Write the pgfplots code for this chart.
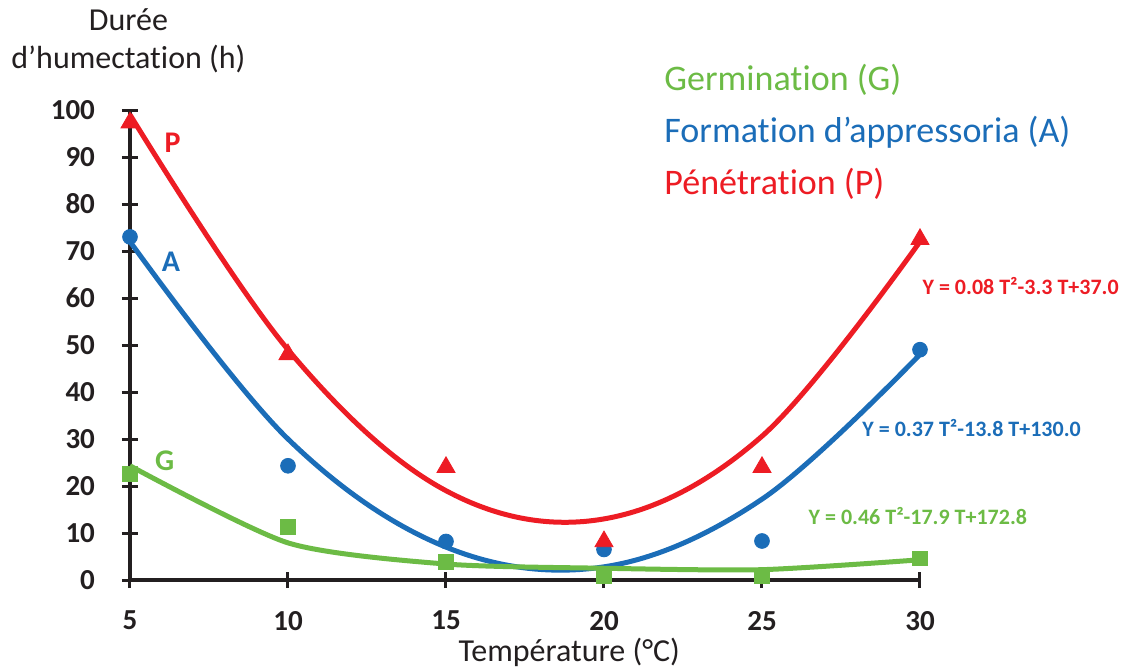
\documentclass[border=0pt]{standalone}
\usepackage{pgfplots}
\pgfplotsset{compat=1.18}
\usepackage{fontspec}
\setmainfont{Carlito}[Ligatures=NoCommon]
\definecolor{cred}{HTML}{ED1C24}
\definecolor{cblue}{HTML}{1B6DB8}
\definecolor{cgreen}{HTML}{6CBB45}
\definecolor{ctext}{HTML}{231F20}
\begin{document}
\begin{tikzpicture}
\useasboundingbox (-65pt,-45pt) rectangle (497.5pt,290pt);
\begin{axis}[
  scale only axis, width=395pt, height=235pt,
  xmin=5, xmax=30, ymin=0, ymax=100,
  axis x line=bottom, axis y line=left,
  axis line style={-, line width=2pt, ctext},
  xtick={5,10,...,30}, ytick={0,10,...,100},
  tick align=center, major tick length=8pt,
  tick style={line width=1.5pt, ctext},
  /pgf/number format/assume math mode=true,
  ticklabel style={font=\fontsize{14.5}{17}\selectfont\bfseries, text=ctext},
  xticklabel style={yshift=-8pt},
  yticklabel style={xshift=-10pt},
  clip=false,
]
% fitted curves
\addplot[cred, line width=2.5pt, smooth, tension=0.6] coordinates {
 (5,99) (10,49) (15,19) (20,13) (25,30.6) (30,72)};
\addplot[cblue, line width=2.5pt, smooth, tension=0.6] coordinates {
 (5,72) (10,30) (15,7) (20,2.8) (25,17.2) (30,48)};
\addplot[cgreen, line width=2.5pt, smooth, tension=0.42] coordinates {
 (5,24.3) (10,7.9) (15,3.4) (20,2.5) (25,2.2) (30,4.3)};
% observed points
\addplot[only marks, mark=*, mark size=3.7pt, cblue] coordinates {
 (5,73) (10,24.3) (15,8.2) (20,6.5) (25,8.3) (30,49)};
\addplot[only marks, mark=triangle*, mark size=5.2pt, cred] coordinates {
 (5,97.3) (10,48) (15,24) (20,8.2) (25,24) (30,72.5)};
\addplot[only marks, mark=square*, mark size=3.7pt, cgreen] coordinates {
 (5,22.5) (10,11.3) (15,3.8) (20,0.9) (25,0.9) (30,4.6)};
% curve labels
\node[font=\fontsize{15}{18}\selectfont\bfseries, text=cred] at (axis cs:6.35,93) {P};
\node[font=\fontsize{15}{18}\selectfont\bfseries, text=cblue] at (axis cs:6.3,67.7) {A};
\node[font=\fontsize{15}{18}\selectfont\bfseries, text=cgreen] at (axis cs:6.1,25.3) {G};
% legend texts
\node[anchor=west, inner sep=0pt, font=\fontsize{18}{20}\selectfont, text=cgreen] at (axis cs:21.9,106.4) {Germination (G)};
\node[anchor=west, inner sep=0pt, font=\fontsize{18}{20}\selectfont, text=cblue] at (axis cs:21.9,95.3) {Formation d’appressoria (A)};
\node[anchor=west, inner sep=0pt, font=\fontsize{18}{20}\selectfont, text=cred] at (axis cs:21.9,84.3) {Pénétration (P)};
% equations
\node[anchor=east, inner sep=0pt, font=\fontsize{11}{12}\selectfont\bfseries, text=cred] at (axis cs:36.3,62.6) {Y = 0.08 T²-3.3 T+37.0};
\node[anchor=east, inner sep=0pt, font=\fontsize{11}{12}\selectfont\bfseries, text=cblue] at (axis cs:35.1,32.3) {Y = 0.37 T²-13.8 T+130.0};
\node[anchor=east, inner sep=0pt, font=\fontsize{11}{12}\selectfont\bfseries, text=cgreen] at (axis cs:33.4,13.6) {Y = 0.46 T²-17.9 T+172.8};
% axis titles
\node[font=\fontsize{16}{19}\selectfont, text=ctext] at (axis cs:18.9,0) [yshift=-36pt] {Température (°C)};
\node[font=\fontsize{16}{19}\selectfont, text=ctext, align=center] at (axis cs:4.95,100) [yshift=34.5pt] {Durée\\[0pt]d’humectation (h)};
\end{axis}
\end{tikzpicture}
\end{document}
